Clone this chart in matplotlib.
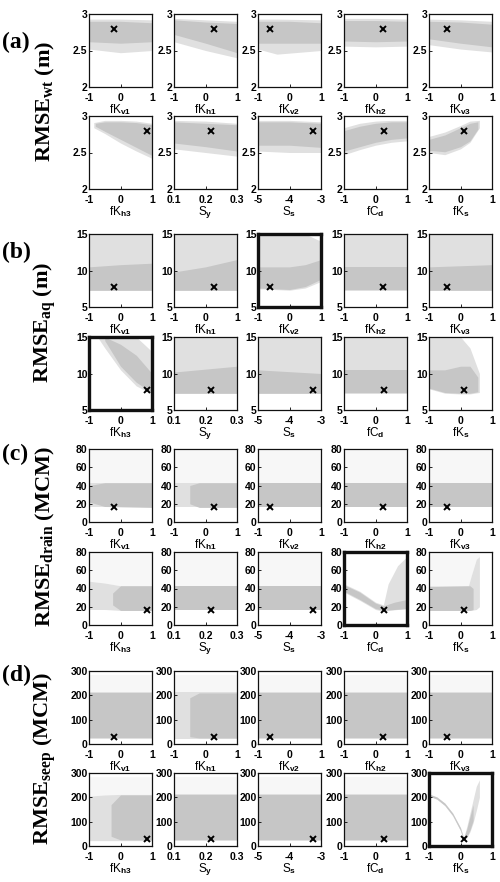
import matplotlib
matplotlib.use("Agg")
import matplotlib.pyplot as plt

plt.rcParams["font.family"] = "Liberation Sans"
plt.rcParams["font.weight"] = "bold"
plt.rcParams["mathtext.fontset"] = "custom"
plt.rcParams["mathtext.rm"] = "Liberation Sans:bold"
plt.rcParams["mathtext.bf"] = "Liberation Sans:bold"
plt.rcParams["mathtext.it"] = "Liberation Serif:bold"

# parameters, panel order: row 1 then row 2
XLABELS = [r"fK$_{\mathrm{v1}}$", r"fK$_{\mathrm{h1}}$", r"fK$_{\mathrm{v2}}$",
           r"fK$_{\mathrm{h2}}$", r"fK$_{\mathrm{v3}}$", r"fK$_{\mathrm{h3}}$",
           r"S$_{\mathrm{y}}$", r"S$_{\mathrm{s}}$", r"fC$_{\mathrm{d}}$", r"fK$_{\mathrm{s}}$"]
XLIMS = [(-1, 1)] * 6 + [(0.1, 0.3), (-5, -3), (-1, 1), (-1, 1)]
XTICKS = [[-1, 0, 1]] * 6 + [[0.1, 0.2, 0.3], [-5, -4, -3], [-1, 0, 1], [-1, 0, 1]]
XTICKLABELS = [["-1", "0", "1"]] * 6 + [["0.1", "0.2", "0.3"], ["-5", "-4", "-3"],
                                        ["-1", "0", "1"], ["-1", "0", "1"]]
BEST_X = [-0.2, 0.26, -0.62, 0.23, -0.42, 0.83, 0.218, -3.25, 0.27, 0.1]

# output groups
TAGS = ["(a)", "(b)", "(c)", "(d)"]
YLABELS = [r"RMSE$_{\mathit{wt}}$ (m)", r"RMSE$_{\mathit{aq}}$ (m)",
           r"RMSE$_{\mathit{drain}}$ (MCM)", r"RMSE$_{\mathit{seep}}$ (MCM)"]
YLIMS = [(2, 3), (5, 15), (0, 80), (0, 300)]
YTICKS = [[2, 2.5, 3], [5, 10, 15], [0, 20, 40, 60, 80], [0, 100, 200, 300]]
YTICKLABELS = [["2", "2.5", "3"], ["5", "10", "15"], ["0", "20", "40", "60", "80"],
               ["0", "100", "200", "300"]]
BEST_Y = [2.79, 7.7, 16.5, 27]
HIGHLIGHT = [[], [2, 5], [8], [9]]

# scatter cloud envelopes: (x, low, high)
A_LIGHT = [
    [(-1, 2.52, 2.93), (0, 2.47, 2.93), (1, 2.5, 2.92)],
    [(-1, 2.62, 2.94), (0, 2.5, 2.92), (1, 2.4, 2.9)],
    [(-1, 2.52, 2.93), (-0.4, 2.45, 2.93), (1, 2.5, 2.92)],
    [(-1, 2.56, 2.94), (0, 2.55, 2.94), (1, 2.56, 2.93)],
    [(-1, 2.58, 2.93), (0, 2.52, 2.92), (1, 2.48, 2.9)],
    [(-0.85, 2.84, 2.91), (-0.5, 2.76, 2.94), (0, 2.63, 2.94), (0.5, 2.52, 2.93), (1, 2.42, 2.9)],
    [(0.1, 2.55, 2.94), (0.2, 2.5, 2.93), (0.3, 2.45, 2.9)],
    [(-5, 2.52, 2.94), (-4, 2.5, 2.94), (-3, 2.5, 2.92)],
    [(-1, 2.47, 2.84), (-0.5, 2.54, 2.9), (0, 2.6, 2.93), (0.5, 2.64, 2.94), (1, 2.66, 2.94)],
    [(-1, 2.5, 2.72), (-0.5, 2.47, 2.78), (0, 2.55, 2.87), (0.3, 2.64, 2.93), (0.6, 2.84, 2.94)],
]
A_DENSE = [
    [(-1, 2.62, 2.9), (0, 2.6, 2.9), (1, 2.62, 2.88)],
    [(-1, 2.72, 2.92), (0, 2.6, 2.89), (1, 2.47, 2.87)],
    [(-1, 2.6, 2.9), (0, 2.6, 2.9), (1, 2.6, 2.88)],
    [(-1, 2.63, 2.91), (0, 2.62, 2.91), (1, 2.63, 2.9)],
    [(-1, 2.66, 2.9), (0, 2.6, 2.89), (1, 2.55, 2.86)],
    [(-0.8, 2.86, 2.9), (-0.5, 2.79, 2.92), (0, 2.68, 2.92), (0.5, 2.57, 2.91), (1, 2.46, 2.88)],
    [(0.1, 2.63, 2.92), (0.2, 2.58, 2.9), (0.3, 2.52, 2.88)],
    [(-5, 2.6, 2.92), (-4, 2.6, 2.92), (-3, 2.57, 2.9)],
    [(-1, 2.52, 2.8), (-0.5, 2.58, 2.86), (0, 2.64, 2.9), (0.5, 2.68, 2.92), (1, 2.7, 2.92)],
    [(-1, 2.53, 2.68), (-0.5, 2.51, 2.74), (0, 2.58, 2.84), (0.3, 2.66, 2.9), (0.55, 2.82, 2.92)],
]
B_LIGHT = [
    [(-1, 7.2, 15), (1, 7.2, 15)],
    [(-1, 7.2, 15), (1, 7.2, 15)],
    [(-1, 7.5, 15), (0, 7.3, 15), (0.5, 7.6, 15), (1, 8.5, 14)],
    [(-1, 7.2, 15), (1, 7.2, 15)],
    [(-1, 7.2, 15), (1, 7.2, 15)],
    [(-0.7, 14.8, 15), (-0.5, 13.5, 15), (0, 10.5, 15), (0.5, 8.3, 15), (1, 7.2, 13)],
    [(0.1, 7.2, 15), (0.3, 7.2, 15)],
    [(-5, 7.2, 15), (-3, 7.2, 15)],
    [(-1, 7.2, 15), (1, 7.2, 15)],
    [(-1, 7.9, 15), (-0.5, 7.3, 15), (0, 7.2, 15), (0.3, 7.2, 13.5), (0.6, 7.4, 10)],
]
B_DENSE = [
    [(-1, 7.3, 10.5), (0, 7.3, 10.8), (1, 7.3, 11)],
    [(-1, 7.3, 9.8), (0, 7.3, 10.5), (1, 7.3, 11.5)],
    [(-1, 7.6, 10.5), (0, 7.4, 10.5), (0.5, 7.8, 10.8), (1, 8.8, 11.5)],
    [(-1, 7.3, 10.5), (1, 7.3, 10.5)],
    [(-1, 7.3, 10.5), (1, 7.3, 10.8)],
    [(-0.5, 14.5, 15), (0, 11, 14), (0.5, 8.8, 12.5), (1, 7.4, 10)],
    [(0.1, 7.3, 10.2), (0.3, 7.3, 11)],
    [(-5, 7.3, 10.5), (-3, 7.3, 10)],
    [(-1, 7.3, 10.5), (1, 7.3, 10.5)],
    [(-1, 8, 10.5), (-0.5, 7.4, 10.5), (0, 7.3, 11), (0.3, 7.3, 11), (0.55, 7.5, 9.5)],
]
C_LIGHT = [
    [(-1, 16, 43), (1, 16, 43)],
    [(-1, 16, 43), (1, 16, 43)],
    [(-1, 16, 43), (1, 16, 43)],
    [(-1, 16, 43), (1, 16, 43)],
    [(-1, 16, 43), (1, 16, 43)],
    [(-1, 17, 48), (-0.5, 17, 46), (0, 16, 43), (1, 16, 43)],
    [(0.1, 16, 43), (0.3, 16, 43)],
    [(-5, 16, 43), (-3, 16, 43)],
    [(-1, 36, 45), (-0.5, 27, 37), (0, 17, 25), (0.25, 15, 22), (0.4, 16, 45), (0.7, 17, 65), (1, 18, 75)],
    [(-1, 16, 43), (0.25, 16, 43), (0.35, 16, 55), (0.5, 17, 72), (0.6, 20, 75)],
]
C_DENSE = [
    [(-1, 22, 40), (-0.5, 17, 43), (1, 16, 43)],
    [(-0.5, 20, 40), (-0.2, 16, 43), (1, 16, 43)],
    [(-1, 16, 43), (1, 16, 43)],
    [(-1, 16, 43), (1, 16, 43)],
    [(-1, 16, 43), (1, 16, 43)],
    [(-0.25, 22, 35), (0, 16, 43), (1, 16, 43)],
    [(0.1, 16, 43), (0.3, 16, 43)],
    [(-5, 16, 43), (-3, 16, 43)],
    [(-1, 37, 44), (-0.5, 28, 36), (0, 18, 24), (0.25, 16, 21), (0.6, 17, 25), (1, 18, 28)],
    [(-1, 16, 42), (0.3, 16, 43), (0.4, 17, 40)],
]
D_LIGHT = [
    [(-1, 22, 212), (1, 22, 212)],
    [(-1, 22, 212), (1, 22, 212)],
    [(-1, 22, 212), (1, 22, 212)],
    [(-1, 22, 212), (1, 22, 212)],
    [(-1, 22, 212), (1, 22, 212)],
    [(-1, 22, 205), (-0.5, 22, 210), (0, 22, 212), (1, 22, 212)],
    [(0.1, 22, 212), (0.3, 22, 212)],
    [(-5, 22, 212), (-3, 22, 212)],
    [(-1, 22, 212), (1, 22, 212)],
    [(-1, 205, 214), (-0.75, 192, 202), (-0.5, 166, 177), (-0.25, 124, 136), (0, 62, 76),
     (0.1, 22, 34), (0.2, 34, 80), (0.3, 58, 135), (0.4, 95, 190), (0.5, 145, 245), (0.6, 200, 272)],
]
D_DENSE = [
    [(-1, 25, 210), (1, 25, 210)],
    [(-0.5, 30, 190), (-0.2, 25, 210), (1, 25, 210)],
    [(-1, 25, 210), (1, 25, 210)],
    [(-1, 25, 210), (1, 25, 210)],
    [(-1, 25, 210), (1, 25, 210)],
    [(-0.3, 40, 170), (0, 25, 210), (1, 25, 210)],
    [(0.1, 25, 210), (0.3, 25, 210)],
    [(-5, 25, 210), (-3, 25, 210)],
    [(-1, 25, 210), (1, 25, 210)],
    [(-1, 206, 213), (-0.75, 193, 201), (-0.5, 167, 176), (-0.25, 126, 135), (0, 64, 74),
     (0.1, 24, 32), (0.2, 38, 70), (0.3, 65, 120), (0.4, 105, 170)],
]
# very sparse outliers above the band (None = no outlier haze)
A_OUTLIER_TOP = [None] * 10
B_OUTLIER_TOP = [None] * 10
C_OUTLIER_TOP = [78] * 8 + [None, 78]
D_OUTLIER_TOP = [285] * 9 + [None]

LIGHT = [A_LIGHT, B_LIGHT, C_LIGHT, D_LIGHT]
DENSE = [A_DENSE, B_DENSE, C_DENSE, D_DENSE]
OUTLIER_TOP = [A_OUTLIER_TOP, B_OUTLIER_TOP, C_OUTLIER_TOP, D_OUTLIER_TOP]

W, H = 500, 882
fig = plt.figure(figsize=(W / 100, H / 100), dpi=100)

col_left = [89, 174, 258, 344, 429]
ax_w, ax_h = 63, 73
row_top = [[14, 116], [234, 337], [449, 552], [671, 773]]
tag_y = [42, 252, 454, 675]


def unpack(env):
    return [e[0] for e in env], [e[1] for e in env], [e[2] for e in env]


for g in range(4):
    for p in range(10):
        r, c = divmod(p, 5)
        top = row_top[g][r]
        ax = fig.add_axes([col_left[c] / W, 1 - (top + ax_h) / H, ax_w / W, ax_h / H])

        x, lo, hi = unpack(LIGHT[g][p])
        if OUTLIER_TOP[g][p] is not None:
            ax.fill_between(x, hi, OUTLIER_TOP[g][p], color="#f7f7f7", lw=0)
        ax.fill_between(x, lo, hi, color="#e0e0e0", lw=0)
        x, lo, hi = unpack(DENSE[g][p])
        ax.fill_between(x, lo, hi, color="#c6c6c6", lw=0)

        ax.plot(BEST_X[p], BEST_Y[g], "x", color="black", ms=5, mew=1.4)

        ax.set_xlim(*XLIMS[p])
        ax.set_ylim(*YLIMS[g])
        ax.set_xticks(XTICKS[p])
        ax.set_xticklabels(XTICKLABELS[p])
        ax.set_yticks(YTICKS[g])
        ax.set_yticklabels(YTICKLABELS[g])
        ax.tick_params(direction="in", length=2, width=0.6, labelsize=7.5)
        ax.tick_params(axis="x", pad=4.2)
        ax.tick_params(axis="y", pad=1)
        ax.set_xlabel(XLABELS[p], fontsize=8.5, labelpad=-0.5)
        lw = 2.4 if p in HIGHLIGHT[g] else 0.9
        for s in ax.spines.values():
            s.set_linewidth(lw)
            s.set_color("#111111")

    mid = (row_top[g][0] + row_top[g][1] + ax_h) / 2
    fig.text(45 / W, 1 - mid / H, YLABELS[g], rotation=90, ha="center", va="center",
             fontsize=16, family="Liberation Serif", weight="bold")
    fig.text(2 / W, 1 - tag_y[g] / H, TAGS[g], ha="left", va="center",
             fontsize=17, family="Liberation Serif", weight="bold")

fig.savefig("out.png", dpi=100)
